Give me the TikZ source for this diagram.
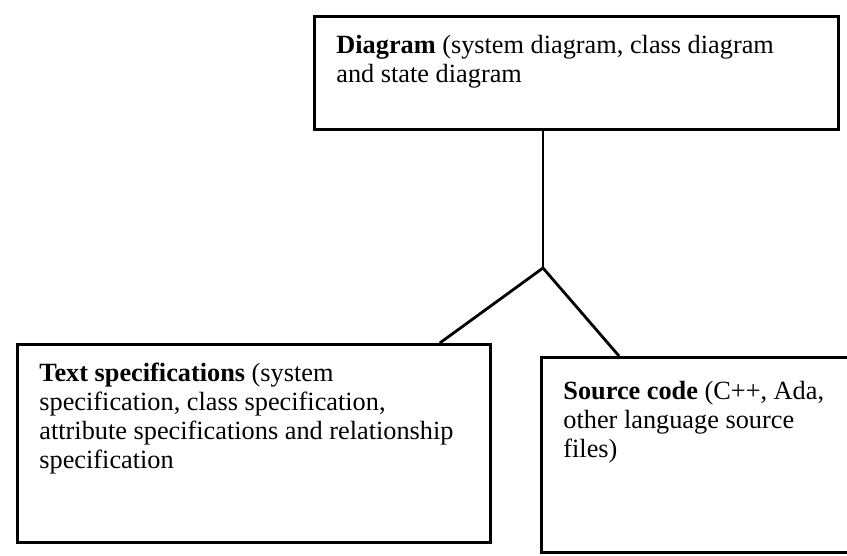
\documentclass[tikz,border=0pt]{standalone}
\usepackage{fontspec}
\setmainfont{Liberation Serif}
\usetikzlibrary{positioning}

\begin{document}
\begin{tikzpicture}[x=0.5pt, y=-0.5pt,
    box/.style={draw, line width=1.4pt, anchor=north west, inner xsep=11pt, inner ysep=9.5pt,
      font=\fontsize{13.15}{14.4}\selectfont},
    link/.style={line width=1.4pt}]
    \useasboundingbox (0,0) rectangle (847,556);

    \node[box] (diagram) at (313,15)
      {\parbox[t][37.5pt][t]{240pt}{\textbf{Diagram} (system diagram, class diagram\\and state diagram}};
    \node[box] (textspec) at (16,343)
      {\parbox[t][80pt][t]{214.5pt}{\textbf{Text specifications} (system\\specification, class specification,\\attribute specifications and relationship\\specification}};
    \node[box, inner ysep=12pt] (srccode) at (540,356)
      {\parbox[t][73.5pt][t]{158pt}{\textbf{Source code} (C++, Ada,\\other language source\\files)}};

    \coordinate (fork) at (543,268);
    \draw[link] (fork |- diagram.south) -- (fork);
    \draw[link] (fork) -- ([xshift=-26pt]textspec.north east);
    \draw[link] (fork) -- ([xshift=39.5pt]srccode.north west);
\end{tikzpicture}
\end{document}
